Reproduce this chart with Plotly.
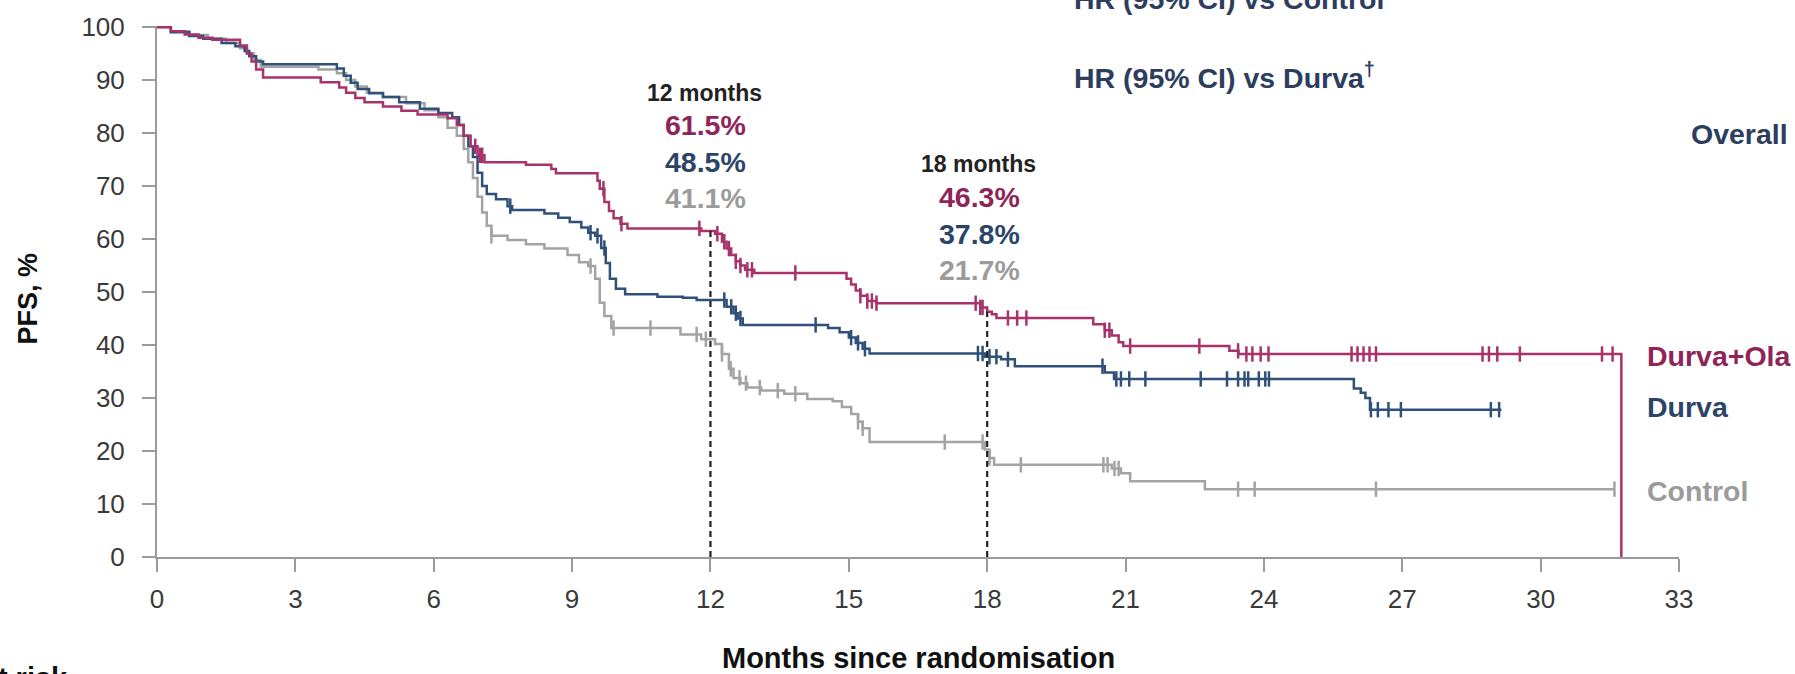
import numpy as np
import plotly.graph_objects as go

# ---- Kaplan-Meier step data (months, PFS %) ----
ola_t = [0, 0.3, 0.6, 0.9, 1.2, 1.8, 1.95, 2.05, 2.15, 2.3, 3.55, 3.95, 4.1, 4.3, 4.5, 4.9,
         5.3, 5.65, 6.3, 6.5, 6.65, 6.8, 6.95, 7.1, 8.0, 8.55, 8.65, 9.55, 9.6, 9.7, 9.8,
         9.9, 10.05, 10.2, 11.8, 12.1, 12.25, 12.35, 12.45, 12.55, 12.65, 12.75, 12.95,
         14.95, 15.05, 15.15, 15.25, 15.4, 15.6, 17.85, 18.0, 18.1, 18.2, 20.3, 20.55,
         20.7, 20.85, 20.95, 23.25, 23.45, 31.75]
ola_s = [100, 99.2, 98.6, 98.0, 97.6, 96.5, 95.0, 93.5, 92.0, 90.5, 89.6, 88.6, 87.6, 86.6,
         85.8, 85.0, 84.2, 83.5, 82.8, 81.5, 79.5, 77.5, 75.8, 74.5, 74.0, 73.2, 72.4, 71.0,
         69.5, 67.0, 65.3, 63.9, 62.9, 62.0, 61.5, 61.0, 59.5, 58.2, 57.0, 55.8, 55.0, 54.2,
         53.6, 52.5, 51.4, 50.3, 49.3, 48.3, 47.9, 47.1, 46.3, 45.8, 45.1, 43.9, 42.8, 41.8,
         40.5, 39.8, 38.9, 38.3, 0]

durva_t = [0, 0.3, 0.7, 1.0, 1.4, 1.7, 1.9, 2.0, 2.15, 2.3, 3.9, 4.05, 4.2, 4.35, 4.6, 4.9,
           5.25, 5.7, 6.1, 6.4, 6.55, 6.65, 6.75, 6.85, 6.95, 7.05, 7.15, 7.35, 7.6, 7.7, 8.4,
           8.7, 8.95, 9.2, 9.35, 9.5, 9.63, 9.73, 9.82, 9.95, 10.15, 10.85, 11.4, 11.7, 12.35,
           12.5, 12.6, 12.7, 14.55, 14.8, 15.0, 15.15, 15.3, 15.45, 17.95, 18.3, 18.6, 20.55,
           20.75, 25.95, 26.1, 26.2, 26.3, 29.15]
durva_s = [100, 99.0, 98.3, 97.8, 97.0, 96.4, 95.5, 94.5, 93.5, 93.0, 92.2, 90.8, 89.5, 88.3,
           87.5, 86.8, 85.8, 84.6, 83.8, 83.0, 81.5, 79.5, 77.5, 75.5, 72.5, 70.0, 68.5, 67.5,
           66.2, 65.5, 64.8, 64.0, 63.2, 62.2, 61.2, 60.6, 58.3, 55.5, 52.5, 50.6, 49.6, 49.1,
           48.9, 48.5, 47.2, 46.0, 45.0, 43.8, 43.2, 42.4, 41.4, 40.4, 39.3, 38.4, 37.8, 37.3,
           36.0, 34.8, 33.6, 31.8, 31.0, 30.0, 27.8, 27.8]

ctrl_t = [0, 0.3, 0.7, 1.1, 1.5, 1.8, 1.95, 2.1, 2.25, 3.5, 3.9, 4.1, 4.3, 4.55, 4.9, 5.4,
          5.8, 6.1, 6.3, 6.5, 6.65, 6.75, 6.85, 6.95, 7.05, 7.15, 7.25, 7.6, 8.0, 8.4, 8.9,
          9.15, 9.35, 9.5, 9.6, 9.7, 9.85, 11.35, 11.8, 12.1, 12.25, 12.4, 12.5, 12.65, 12.8,
          13.1, 13.6, 14.1, 14.65, 14.85, 15.05, 15.2, 15.3, 15.45, 17.95, 18.05, 18.15, 20.7,
          20.9, 21.1, 22.72, 31.6]
ctrl_s = [100, 99.2, 98.5, 97.8, 97.0, 96.0, 95.0, 93.8, 92.5, 92.0, 91.3, 90.0, 88.8, 87.6,
          86.8, 85.6, 84.3, 83.0, 81.0, 79.5, 77.0, 74.5, 71.5, 68.0, 65.0, 62.5, 60.6, 59.8,
          59.0, 58.2, 57.0, 55.6, 54.9, 52.5, 48.0, 45.5, 43.2, 42.0, 41.1, 40.2, 38.3, 35.5,
          33.8, 32.8, 32.0, 31.4, 30.8, 29.8, 29.4, 28.3, 27.0, 25.5, 24.3, 21.7, 20.3, 18.7,
          17.4, 16.7, 15.8, 14.3, 12.8, 12.8]

# censoring times (months)
ola_cens = [6.9, 7.0, 7.05, 9.68, 10.07, 11.76, 12.15, 12.3, 12.4, 12.55, 12.65, 12.8, 12.9,
            13.84, 15.25, 15.4, 15.5, 15.6, 17.75, 17.85, 17.9, 18.45, 18.65, 18.85, 20.55,
            20.65, 21.1, 22.6, 23.44, 23.62, 23.75, 23.93, 24.1, 25.9, 26.03, 26.16, 26.29,
            26.43, 28.74, 28.88, 29.06, 29.55, 31.33, 31.56]
durva_cens = [7.66, 9.4, 9.55, 9.7, 12.3, 12.45, 12.55, 12.65, 14.28, 15.05, 15.2, 15.35,
              17.8, 17.9, 18.05, 18.2, 18.45, 20.5, 20.8, 20.9, 21.08, 21.43, 22.63, 23.2,
              23.44, 23.58, 23.66, 23.89, 24.03, 24.11, 26.32, 26.47, 26.7, 26.97, 28.92, 29.1]
ctrl_cens = [7.25, 9.4, 9.9, 10.7, 11.7, 11.9, 12.25, 12.44, 12.63, 12.77, 13.07, 13.46,
             13.84, 15.2, 15.3, 17.08, 17.9, 18.05, 18.73, 20.52, 20.61, 20.76, 20.85, 23.44,
             23.8, 26.43, 31.6]

# landmark estimates
landmark_months = [12, 18]
ola_landmark = [61.5, 46.3]
durva_landmark = [48.5, 37.8]
ctrl_landmark = [41.1, 21.7]

arm_names = ["Durva+Ola", "Durva", "Control"]
x_ticks = list(range(0, 34, 3))
y_ticks = list(range(0, 101, 10))

# ---- styling ----
FONT = "Liberation Sans, Arial, sans-serif"
C_OLA_LINE, C_OLA_TXT = "#a8336a", "#8e2457"
C_DUR_LINE, C_DUR_TXT = "#2f5078", "#2b4468"
C_CTL_LINE, C_CTL_TXT = "#a3a3a3", "#9b9b9b"
C_HEAD = "#2c3d5e"
AXIS_C = "#9a9a9a"

W, H = 1795, 674
L, R, T, B = 157, 116, 23, 117
PW, PH = W - L - R, H - T - B


def px(x):
    return (x - L) / PW


def py(y):
    return (T + PH - y) / PH


def km_at(times, surv, t):
    i = np.searchsorted(np.asarray(times), t, side="right") - 1
    return surv[max(i, 0)]


fig = go.Figure()

arms = [
    (ola_t, ola_s, ola_cens, C_OLA_LINE, arm_names[0]),
    (durva_t, durva_s, durva_cens, C_DUR_LINE, arm_names[1]),
    (ctrl_t, ctrl_s, ctrl_cens, C_CTL_LINE, arm_names[2]),
]

for times, surv, cens, col, name in reversed(arms):
    fig.add_trace(go.Scatter(x=times, y=surv, mode="lines", line_shape="hv",
                             line=dict(color=col, width=2.5), name=name, showlegend=False,
                             hoverinfo="skip"))
    fig.add_trace(go.Scatter(x=cens, y=[km_at(times, surv, c) for c in cens], mode="markers",
                             marker=dict(symbol="line-ns", size=11,
                                         line=dict(color=col, width=2.5)),
                             showlegend=False, hoverinfo="skip", cliponaxis=False))

# landmark dashed lines
for m, v in zip(landmark_months, ola_landmark):
    fig.add_shape(type="line", xref="x", yref="y", x0=m, x1=m, y0=0, y1=v,
                  line=dict(color="#222222", width=2.2, dash="6px,4px"))

annos = []


def add_text(text, x, y, size, color, xanchor="center", yanchor="middle", angle=0, bold=True):
    annos.append(dict(text=f"<b>{text}</b>" if bold else text, x=px(x), y=py(y),
                      xref="paper", yref="paper", xanchor=xanchor, yanchor=yanchor,
                      showarrow=False, textangle=angle,
                      font=dict(family=FONT, size=size, color=color)))


# landmark text blocks
label_x = [704, 978]
label_y0 = [90, 162]
for k, m in enumerate(landmark_months):
    add_text(f"{m} months", label_x[k], label_y0[k], 23, "#222222")
    add_text(f"{ola_landmark[k]}%", label_x[k] + 1, label_y0[k] + 33, 28.5, C_OLA_TXT)
    add_text(f"{durva_landmark[k]}%", label_x[k] + 1, label_y0[k] + 70, 28.5, C_DUR_TXT)
    add_text(f"{ctrl_landmark[k]}%", label_x[k] + 1, label_y0[k] + 106, 28.5, C_CTL_TXT)

# arm labels at curve ends
add_text(arm_names[0], 1645, 355, 28.5, C_OLA_TXT, xanchor="left")
add_text(arm_names[1], 1645, 406, 28.5, C_DUR_TXT, xanchor="left")
add_text(arm_names[2], 1645, 491, 28.5, C_CTL_TXT, xanchor="left")

# header texts
add_text("HR (95% CI) vs Control", 1072, -4, 28.5, C_HEAD, xanchor="left")
add_text("HR (95% CI) vs Durva<sup>†</sup>", 1072, 73, 28.5, C_HEAD, xanchor="left")
add_text("Overall", 1790, 132, 28.5, C_HEAD, xanchor="right")

# axis titles and risk table heading
add_text("PFS, %", 28, 297, 27, "#111111", angle=-90)
add_text("Months since randomisation", 918, 659, 29, "#111111")
add_text("No. at risk", 70, 679, 29, "#111111", xanchor="right")

axis_common = dict(showline=True, linecolor=AXIS_C, linewidth=2, ticks="outside", ticklen=13,
                   tickwidth=2, tickcolor=AXIS_C, showgrid=False, zeroline=False,
                   tickfont=dict(family=FONT, size=26, color="#3a3a3a"))

fig.update_layout(
    width=W, height=H, autosize=False,
    margin=dict(l=L, r=R, t=T, b=B, pad=0),
    paper_bgcolor="white", plot_bgcolor="white",
    showlegend=False,
    xaxis=dict(range=[0, 33], tickvals=x_ticks, ticklabelstandoff=5, **axis_common),
    yaxis=dict(range=[0, 100.2], tickvals=y_ticks, ticklabelstandoff=12, **axis_common),
    annotations=annos,
)

fig.write_html("out.html")
